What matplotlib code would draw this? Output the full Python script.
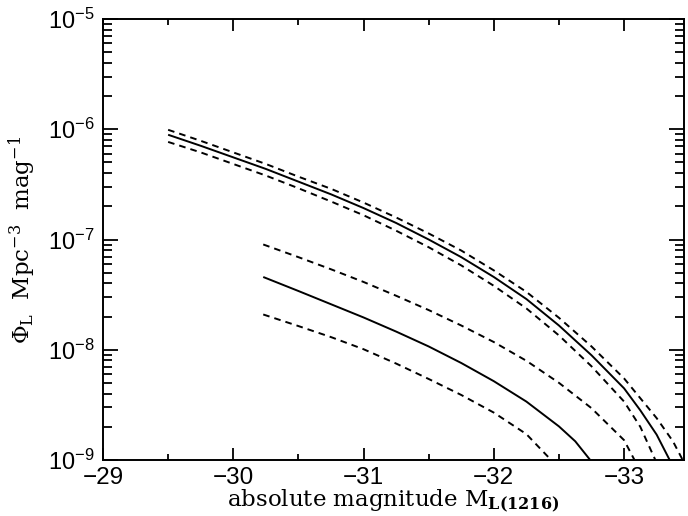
import numpy as np
import matplotlib
matplotlib.use("Agg")
import matplotlib.pyplot as plt
from matplotlib.ticker import FixedLocator, LogLocator, FuncFormatter, NullFormatter

# ---- data (absolute magnitude, log10 Phi_L) ----
mag_up_solid = [-29.5, -29.75, -30.0, -30.25, -30.5, -30.75, -31.0, -31.25, -31.5,
                -31.75, -32.0, -32.25, -32.5, -32.75, -33.0, -33.125, -33.25, -33.35]
logphi_up_solid = [-6.05, -6.15, -6.255, -6.36, -6.475, -6.59, -6.715, -6.85, -7.0,
                   -7.16, -7.34, -7.54, -7.78, -8.05, -8.35, -8.55, -8.77, -9.0]

mag_up_hi = [-29.5, -29.75, -30.0, -30.25, -30.5, -30.75, -31.0, -31.25, -31.5,
             -31.75, -32.0, -32.25, -32.5, -32.75, -33.0, -33.125, -33.25, -33.375, -33.45]
logphi_up_hi = [-6.005, -6.105, -6.21, -6.315, -6.43, -6.54, -6.665, -6.80, -6.945,
                -7.10, -7.28, -7.475, -7.71, -7.97, -8.26, -8.44, -8.62, -8.83, -9.0]

mag_up_lo = [-29.5, -29.75, -30.0, -30.25, -30.5, -30.75, -31.0, -31.25, -31.5,
             -31.75, -32.0, -32.25, -32.5, -32.75, -33.0, -33.125, -33.24]
logphi_up_lo = [-6.115, -6.21, -6.315, -6.42, -6.535, -6.655, -6.78, -6.92, -7.07,
                -7.235, -7.42, -7.625, -7.87, -8.15, -8.47, -8.70, -9.0]

mag_lo_solid = [-30.23, -30.5, -30.75, -31.0, -31.25, -31.5, -31.75, -32.0, -32.25,
                -32.5, -32.625, -32.74]
logphi_lo_solid = [-7.34, -7.467, -7.587, -7.707, -7.835, -7.97, -8.12, -8.285, -8.47,
                   -8.695, -8.83, -9.0]

mag_lo_hi = [-30.23, -30.5, -30.75, -31.0, -31.25, -31.5, -31.75, -32.0, -32.25,
             -32.5, -32.75, -33.0, -33.08]
logphi_lo_hi = [-7.045, -7.16, -7.27, -7.385, -7.51, -7.64, -7.78, -7.93, -8.10,
                -8.30, -8.53, -8.82, -9.0]

mag_lo_lo = [-30.23, -30.5, -30.75, -31.0, -31.25, -31.5, -31.75, -32.0, -32.25, -32.44]
logphi_lo_lo = [-7.68, -7.785, -7.885, -7.995, -8.125, -8.265, -8.41, -8.57, -8.765, -9.0]

x_ticks = [-29, -30, -31, -32, -33]
y_ticks = [1e-9, 1e-8, 1e-7, 1e-6, 1e-5]

plt.rcParams['mathtext.fontset'] = 'dejavuserif'
plt.rcParams['mathtext.rm'] = 'Liberation Sans'

fig = plt.figure(figsize=(6.88, 5.16), dpi=100)
ax = fig.add_axes([0.1497, 0.1085, 0.9942 - 0.1497, 0.9632 - 0.1085])

lw = 1.4
dash = (3.4, 2.6)
curves = [
    (mag_up_solid, logphi_up_solid, '-'),
    (mag_up_hi, logphi_up_hi, '--'),
    (mag_up_lo, logphi_up_lo, '--'),
    (mag_lo_solid, logphi_lo_solid, '-'),
    (mag_lo_hi, logphi_lo_hi, '--'),
    (mag_lo_lo, logphi_lo_lo, '--'),
]
for m, lp, ls in curves:
    y = 10.0 ** np.asarray(lp)
    if ls == '-':
        ax.plot(m, y, color='black', lw=lw, solid_capstyle='butt', solid_joinstyle='round')
    else:
        ax.plot(m, y, color='black', lw=lw, dashes=dash, dash_capstyle='butt')

ax.set_yscale('log')
ax.set_xlim(-29, -33.46)
ax.set_ylim(1e-9, 1e-5)

ax.xaxis.set_major_locator(FixedLocator(x_ticks))
ax.xaxis.set_minor_locator(FixedLocator(np.arange(-29.5, -33.5, -1.0)))
ax.yaxis.set_major_locator(FixedLocator(y_ticks))
ax.yaxis.set_minor_locator(LogLocator(base=10, subs=np.arange(2, 10), numticks=20))
ax.yaxis.set_minor_formatter(NullFormatter())

def xfmt(v, pos):
    return '\u2212%d' % abs(int(round(v)))

def yfmt(v, pos):
    e = int(round(np.log10(v)))
    return r'$\mathregular{10^{%d}}$' % e

ax.xaxis.set_major_formatter(FuncFormatter(xfmt))
ax.yaxis.set_major_formatter(FuncFormatter(yfmt))

for sp in ax.spines.values():
    sp.set_linewidth(1.4)

ax.tick_params(axis='both', which='both', direction='in', top=True, right=True,
               width=1.3, colors='black')
ax.tick_params(axis='x', which='major', length=8.6, pad=5)
ax.tick_params(axis='x', which='minor', length=4.3)
ax.tick_params(axis='y', which='major', length=10.8, pad=6)
ax.tick_params(axis='y', which='minor', length=6.5)

for lab in ax.get_xticklabels():
    lab.set_fontfamily('Liberation Sans')
    lab.set_fontsize(17.5)
for lab in ax.get_yticklabels():
    lab.set_fontfamily('Liberation Sans')
    lab.set_fontsize(17)

ax.set_xlabel(r'absolute magnitude M$_{\mathbf{L(1216)}}$', family='DejaVu Serif',
              fontsize=16.5, labelpad=-1)
ax.set_ylabel(r'$\Phi_{\rm L}$  Mpc$^{-3}$  mag$^{-1}$', family='DejaVu Serif',
              fontsize=16.5, labelpad=7)

fig.savefig('out.png', dpi=100)
